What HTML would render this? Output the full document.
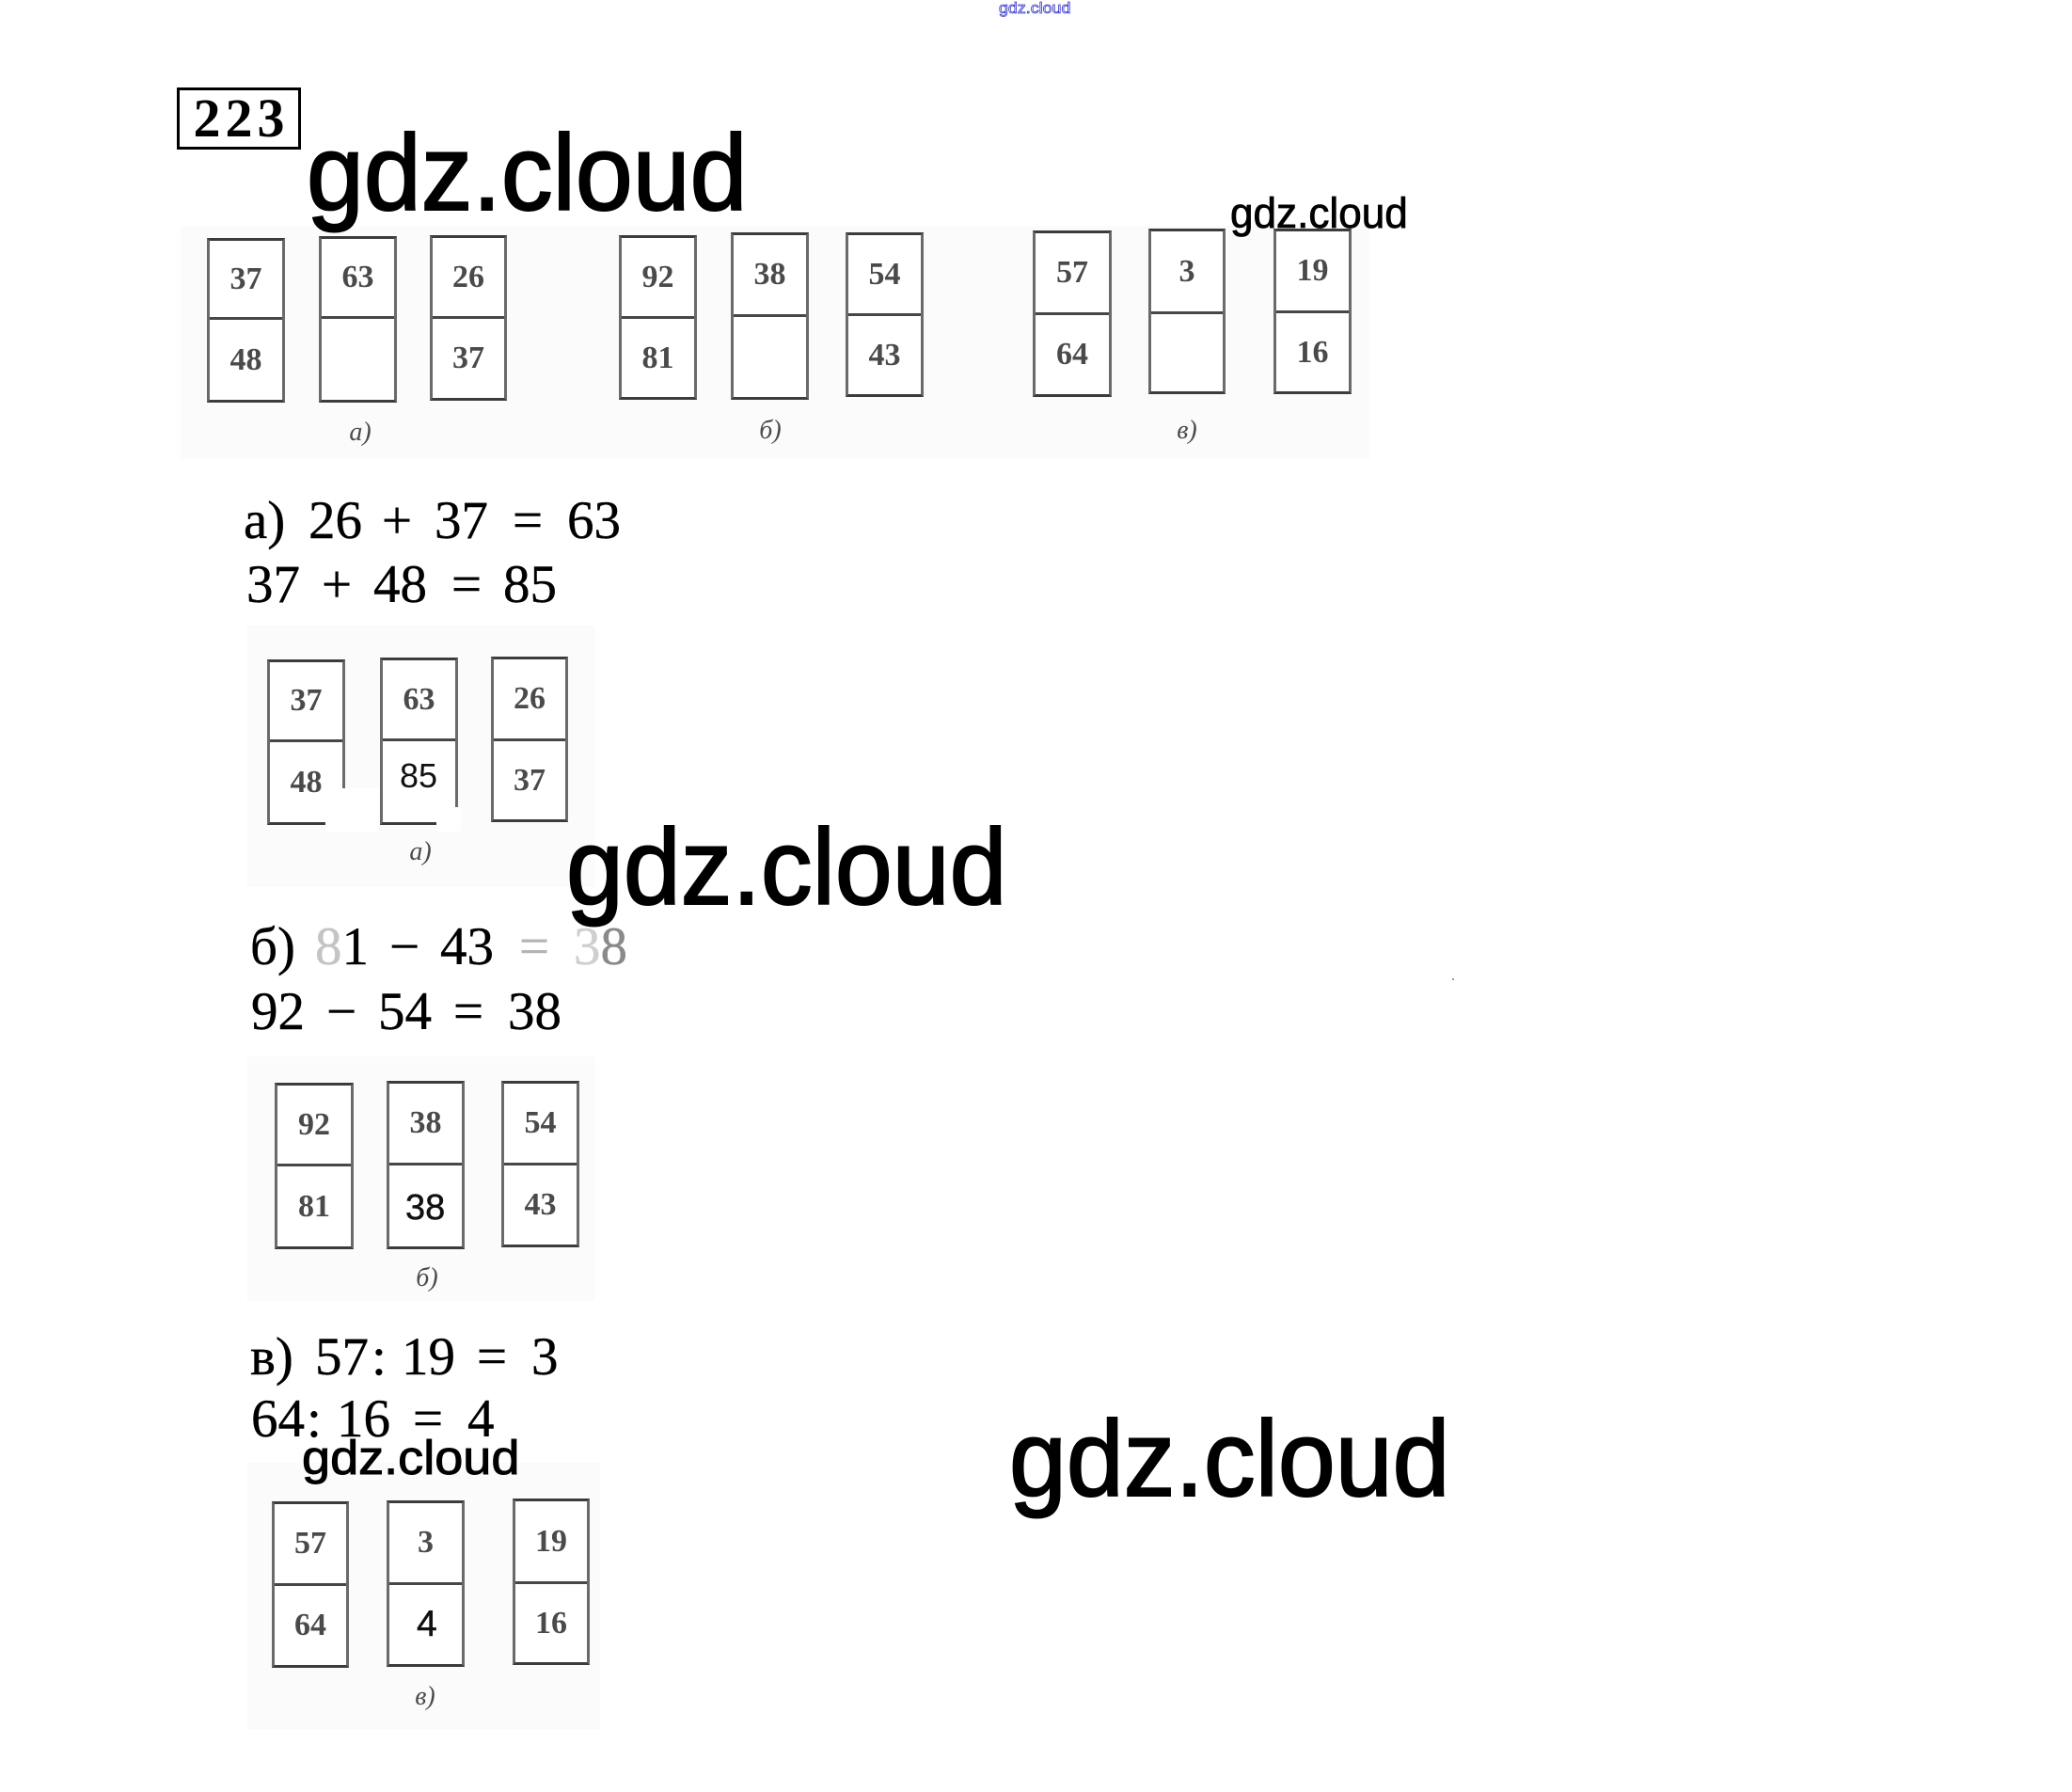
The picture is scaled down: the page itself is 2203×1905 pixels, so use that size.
<!DOCTYPE html>
<html><head><meta charset="utf-8">
<style>
html,body{margin:0;padding:0;background:#fff;}
body{width:2203px;height:1905px;position:relative;overflow:hidden;}
.abs{position:absolute;}
.panel{position:absolute;background:#fbfbfb;}
.box{position:absolute;box-sizing:border-box;border:3px solid #6a6a6a;border-top-color:#3c3c3c;border-bottom-color:#3c3c3c;background:#fff;}
.box .mid{position:absolute;left:0;right:0;height:3px;background:#474747;}
.box .c{position:absolute;left:0;right:0;display:flex;align-items:center;justify-content:center;font-family:"Liberation Serif",serif;font-size:34px;font-weight:bold;line-height:1;color:#4a4a4a;}
.lab{position:absolute;font-family:"Liberation Serif",serif;font-style:italic;font-size:28px;line-height:1;color:#4a4a4a;transform:translateX(-50%);}
.eq{position:absolute;font-family:"Liberation Serif","DejaVu Serif",serif;font-size:57px;line-height:1;color:#000;white-space:pre;-webkit-text-stroke:0.4px #000;}
.wm{position:absolute;font-family:"Liberation Sans",sans-serif;line-height:1;color:#000;white-space:pre;transform-origin:0 0;}
.sans{position:absolute;font-family:"Liberation Sans",sans-serif;line-height:1;color:#111;}
</style></head><body>

<!-- top small blue outlined watermark -->
<div class="wm" style="left:1062px;top:0px;font-size:17px;color:#fff;-webkit-text-stroke:0.8px #3838c8;transform:scaleX(1.05);">gdz.cloud</div>

<!-- 223 box -->
<div class="abs" style="left:188px;top:93px;width:132px;height:66px;box-sizing:border-box;border:3px solid #000;display:flex;align-items:center;justify-content:center;font-family:'Liberation Serif',serif;font-weight:bold;font-size:58px;line-height:1;letter-spacing:5px;color:#000;padding-left:5px;">223</div>

<!-- Figure 1 panel -->
<div class="panel" style="left:192px;top:240px;width:1264px;height:248px;"></div>

<!-- Big watermark 1 -->
<div class="wm" style="left:326px;top:128px;font-size:114px;-webkit-text-stroke:2px #000;transform:scaleX(0.96);">gdz.cloud</div>

<!-- Figure 1 boxes -->
<div class="box" style="left:220px;top:253px;width:83px;height:175px;"><div class="c" style="top:0;height:81px;">37</div><div class="mid" style="top:81px;"></div><div class="c" style="top:84px;bottom:0;">48</div></div>
<div class="box" style="left:339px;top:251px;width:83px;height:177px;"><div class="c" style="top:0;height:82px;">63</div><div class="mid" style="top:82px;"></div><div class="c" style="top:85px;bottom:0;"></div></div>
<div class="box" style="left:457px;top:250px;width:82px;height:176px;"><div class="c" style="top:0;height:83px;">26</div><div class="mid" style="top:83px;"></div><div class="c" style="top:86px;bottom:0;">37</div></div>
<div class="lab" style="left:383px;top:446px;">а)</div>

<div class="box" style="left:658px;top:250px;width:83px;height:175px;"><div class="c" style="top:0;height:83px;">92</div><div class="mid" style="top:83px;"></div><div class="c" style="top:86px;bottom:0;">81</div></div>
<div class="box" style="left:777px;top:247px;width:83px;height:178px;"><div class="c" style="top:0;height:84px;">38</div><div class="mid" style="top:84px;"></div><div class="c" style="top:87px;bottom:0;"></div></div>
<div class="box" style="left:899px;top:247px;width:83px;height:175px;"><div class="c" style="top:0;height:83px;">54</div><div class="mid" style="top:83px;"></div><div class="c" style="top:86px;bottom:0;">43</div></div>
<div class="lab" style="left:819px;top:444px;">б)</div>

<div class="box" style="left:1098px;top:245px;width:84px;height:177px;"><div class="c" style="top:0;height:84px;">57</div><div class="mid" style="top:84px;"></div><div class="c" style="top:87px;bottom:0;">64</div></div>
<div class="box" style="left:1221px;top:243px;width:82px;height:176px;"><div class="c" style="top:0;height:85px;">3</div><div class="mid" style="top:85px;"></div><div class="c" style="top:88px;bottom:0;"></div></div>
<div class="box" style="left:1354px;top:243px;width:83px;height:176px;"><div class="c" style="top:0;height:84px;">19</div><div class="mid" style="top:84px;"></div><div class="c" style="top:87px;bottom:0;">16</div></div>
<div class="lab" style="left:1262px;top:444px;">в)</div>

<!-- Small watermark top right -->
<div class="wm" style="left:1308px;top:204px;font-size:45px;-webkit-text-stroke:0.8px #000;transform:scaleX(0.98);">gdz.cloud</div>

<!-- Equations a -->
<div class="eq" style="left:259px;top:525px;">а)</div>
<div class="eq" style="left:328px;top:525px;">26</div>
<div class="eq" style="left:406px;top:525px;">+</div>
<div class="eq" style="left:462px;top:525px;">37</div>
<div class="eq" style="left:545px;top:525px;">=</div>
<div class="eq" style="left:603px;top:525px;">63</div>

<div class="eq" style="left:262px;top:593px;">37</div>
<div class="eq" style="left:342px;top:593px;">+</div>
<div class="eq" style="left:397px;top:593px;">48</div>
<div class="eq" style="left:480px;top:593px;">=</div>
<div class="eq" style="left:535px;top:593px;">85</div>

<!-- Figure 2 -->
<div class="panel" style="left:263px;top:665px;width:370px;height:278px;"></div>
<div class="box" style="left:284px;top:701px;width:83px;height:176px;"><div class="c" style="top:0;height:82px;">37</div><div class="mid" style="top:82px;"></div><div class="c" style="top:85px;bottom:0;">48</div></div>
<div class="box" style="left:404px;top:699px;width:83px;height:178px;"><div class="c" style="top:0;height:83px;">63</div><div class="mid" style="top:83px;"></div><div class="c" style="top:86px;bottom:0;"></div></div>
<div class="box" style="left:522px;top:698px;width:82px;height:176px;"><div class="c" style="top:0;height:84px;">26</div><div class="mid" style="top:84px;"></div><div class="c" style="top:87px;bottom:0;">37</div></div>
<div class="abs" style="left:346px;top:838px;width:56px;height:46px;background:#fff;"></div>
<div class="abs" style="left:464px;top:858px;width:26px;height:26px;background:#fff;"></div>
<div class="sans" style="left:425px;top:807px;font-size:36px;">85</div>
<div class="lab" style="left:447px;top:892px;">а)</div>

<!-- Big watermark 2 -->
<div class="wm" style="left:602px;top:866px;font-size:114px;-webkit-text-stroke:2px #000;transform:scaleX(0.96);">gdz.cloud</div>

<!-- Equations b -->
<div class="eq" style="left:266px;top:978px;">б)</div>
<div class="eq" style="left:335px;top:978px;"><span style="color:#c4c4c4;-webkit-text-stroke:0.4px #c4c4c4;">8</span>1</div>
<div class="eq" style="left:414px;top:978px;">−</div>
<div class="eq" style="left:468px;top:978px;">43</div>
<div class="eq" style="left:552px;top:978px;color:#b4b4b4;-webkit-text-stroke:0.4px #b4b4b4;">=</div>
<div class="eq" style="left:610px;top:978px;"><span style="color:#cfcfcf;-webkit-text-stroke:0.4px #cfcfcf;">3</span><span style="color:#8a8a8a;-webkit-text-stroke:0.4px #8a8a8a;">8</span></div>

<div class="eq" style="left:267px;top:1047px;">92</div>
<div class="eq" style="left:347px;top:1047px;">−</div>
<div class="eq" style="left:402px;top:1047px;">54</div>
<div class="eq" style="left:482px;top:1047px;">=</div>
<div class="eq" style="left:540px;top:1047px;">38</div>

<!-- Figure 3 -->
<div class="panel" style="left:263px;top:1123px;width:370px;height:260px;"></div>
<div class="box" style="left:292px;top:1151px;width:84px;height:177px;"><div class="c" style="top:0;height:83px;">92</div><div class="mid" style="top:83px;"></div><div class="c" style="top:86px;bottom:0;">81</div></div>
<div class="box" style="left:411px;top:1149px;width:83px;height:179px;"><div class="c" style="top:0;height:84px;">38</div><div class="mid" style="top:84px;"></div><div class="c" style="top:87px;bottom:0;"></div></div>
<div class="box" style="left:533px;top:1149px;width:83px;height:177px;"><div class="c" style="top:0;height:84px;">54</div><div class="mid" style="top:84px;"></div><div class="c" style="top:87px;bottom:0;">43</div></div>
<div class="sans" style="left:431px;top:1265px;font-size:38px;-webkit-text-stroke:0.5px #111;">38</div>
<div class="lab" style="left:454px;top:1345px;">б)</div>

<!-- Equations v -->
<div class="eq" style="left:266px;top:1414px;">в)</div>
<div class="eq" style="left:335px;top:1414px;">57</div>
<div class="eq" style="left:395px;top:1414px;">:</div>
<div class="eq" style="left:427px;top:1414px;">19</div>
<div class="eq" style="left:507px;top:1414px;">=</div>
<div class="eq" style="left:565px;top:1414px;">3</div>

<div class="eq" style="left:267px;top:1480px;">64</div>
<div class="eq" style="left:326px;top:1480px;">:</div>
<div class="eq" style="left:358px;top:1480px;">16</div>
<div class="eq" style="left:439px;top:1480px;">=</div>
<div class="eq" style="left:497px;top:1480px;">4</div>

<!-- Figure 4 -->
<div class="panel" style="left:263px;top:1555px;width:375px;height:283px;"></div>
<div class="box" style="left:289px;top:1596px;width:82px;height:177px;"><div class="c" style="top:0;height:84px;">57</div><div class="mid" style="top:84px;"></div><div class="c" style="top:87px;bottom:0;">64</div></div>
<div class="box" style="left:411px;top:1595px;width:83px;height:177px;"><div class="c" style="top:0;height:84px;">3</div><div class="mid" style="top:84px;"></div><div class="c" style="top:87px;bottom:0;"></div></div>
<div class="box" style="left:545px;top:1593px;width:82px;height:177px;"><div class="c" style="top:0;height:85px;">19</div><div class="mid" style="top:85px;"></div><div class="c" style="top:88px;bottom:0;">16</div></div>
<div class="sans" style="left:443px;top:1707px;font-size:39px;-webkit-text-stroke:0.5px #111;">4</div>
<div class="lab" style="left:452px;top:1790px;">в)</div>

<!-- Small watermark bottom -->
<div class="wm" style="left:321px;top:1524px;font-size:51px;-webkit-text-stroke:1px #000;transform:scaleX(1.06);">gdz.cloud</div>

<!-- Big watermark 3 -->
<div class="wm" style="left:1073px;top:1495px;font-size:114px;-webkit-text-stroke:2px #000;transform:scaleX(0.96);">gdz.cloud</div>

<!-- tiny dot -->
<div class="abs" style="left:1544px;top:1040px;width:2px;height:2px;background:#999;"></div>

</body></html>
